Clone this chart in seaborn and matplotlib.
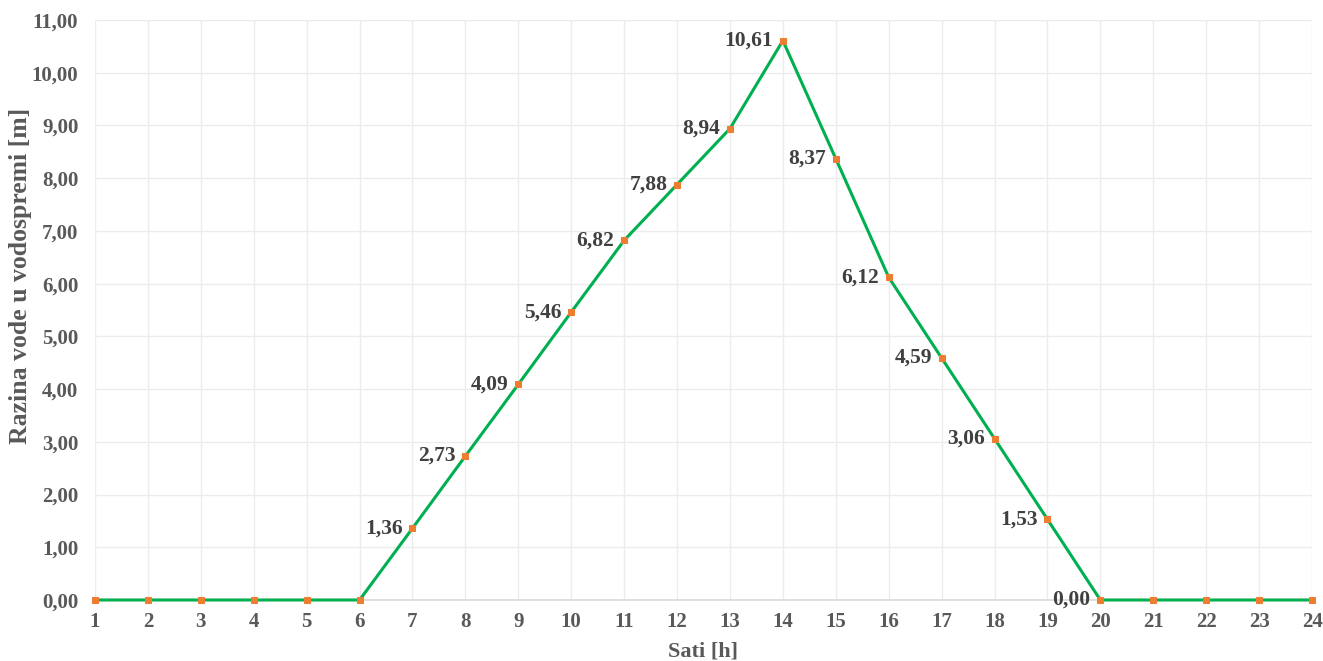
import matplotlib
matplotlib.use("Agg")
import matplotlib.pyplot as plt
import seaborn as sns
import pandas as pd
from matplotlib.ticker import FuncFormatter, MultipleLocator

hours = list(range(1, 25))
levels = [0, 0, 0, 0, 0, 0, 1.36, 2.73, 4.09, 5.46, 6.82, 7.88, 8.94, 10.61,
          8.37, 6.12, 4.59, 3.06, 1.53, 0, 0, 0, 0, 0]
labeled_hours = list(range(7, 21))

x_label = "Sati [h]"
y_label = "Razina vode u vodospremi [m]"

sns.set_theme(style="white")
plt.rcParams['font.family'] = ['Liberation Serif', 'DejaVu Serif']

df = pd.DataFrame({"h": hours, "v": levels})

fig = plt.figure(figsize=(13.23, 6.61), dpi=100)
ax = fig.add_axes([0.0718, 0.0923, 0.9199, 0.8774])

sns.lineplot(data=df, x="h", y="v", ax=ax, color="#00b050", linewidth=2.2,
             marker="s", markersize=4.5, markerfacecolor="#ed7d31",
             markeredgecolor="#ed7d31", zorder=3, clip_on=False)

ax.set_xlim(1, 24)
ax.set_ylim(0, 11)
ax.xaxis.set_major_locator(MultipleLocator(1))
ax.yaxis.set_major_locator(MultipleLocator(1))
ax.yaxis.set_major_formatter(FuncFormatter(lambda v, p: f"{v:.2f}".replace(".", ",")))
ax.xaxis.set_major_formatter(FuncFormatter(lambda v, p: f"{int(v)}"))
ax.grid(True, color="#ececec", linewidth=1)
ax.set_axisbelow(True)
for s in ["top", "right", "left"]:
    ax.spines[s].set_visible(False)
ax.spines["bottom"].set_color("#d9d9d9")
ax.spines["bottom"].set_linewidth(1.2)
ax.tick_params(axis="both", length=0, labelsize=15, labelcolor="#595959")
ax.tick_params(axis="y", pad=12)
ax.tick_params(axis="x", pad=9)
for lbl in ax.get_xticklabels() + ax.get_yticklabels():
    lbl.set_fontweight("bold")
ax.set_xlabel(x_label, fontsize=16, fontweight="bold", color="#595959")
ax.set_ylabel(y_label, fontsize=18.5, fontweight="bold", color="#595959")
ax.xaxis.set_label_coords(0.4996, -0.088)
ax.yaxis.set_label_coords(-0.0616, 0.559)
ax.xaxis.label.set_va("center")
ax.yaxis.label.set_va("center")

for h, v in zip(hours, levels):
    if h in labeled_hours:
        ax.annotate(f"{v:.2f}".replace(".", ","), (h, v), xytext=(-7, 0),
                    textcoords="offset points", ha="right", va="center",
                    fontsize=15.5, fontweight="bold", color="#404040")

fig.savefig("out.png", dpi=100)
